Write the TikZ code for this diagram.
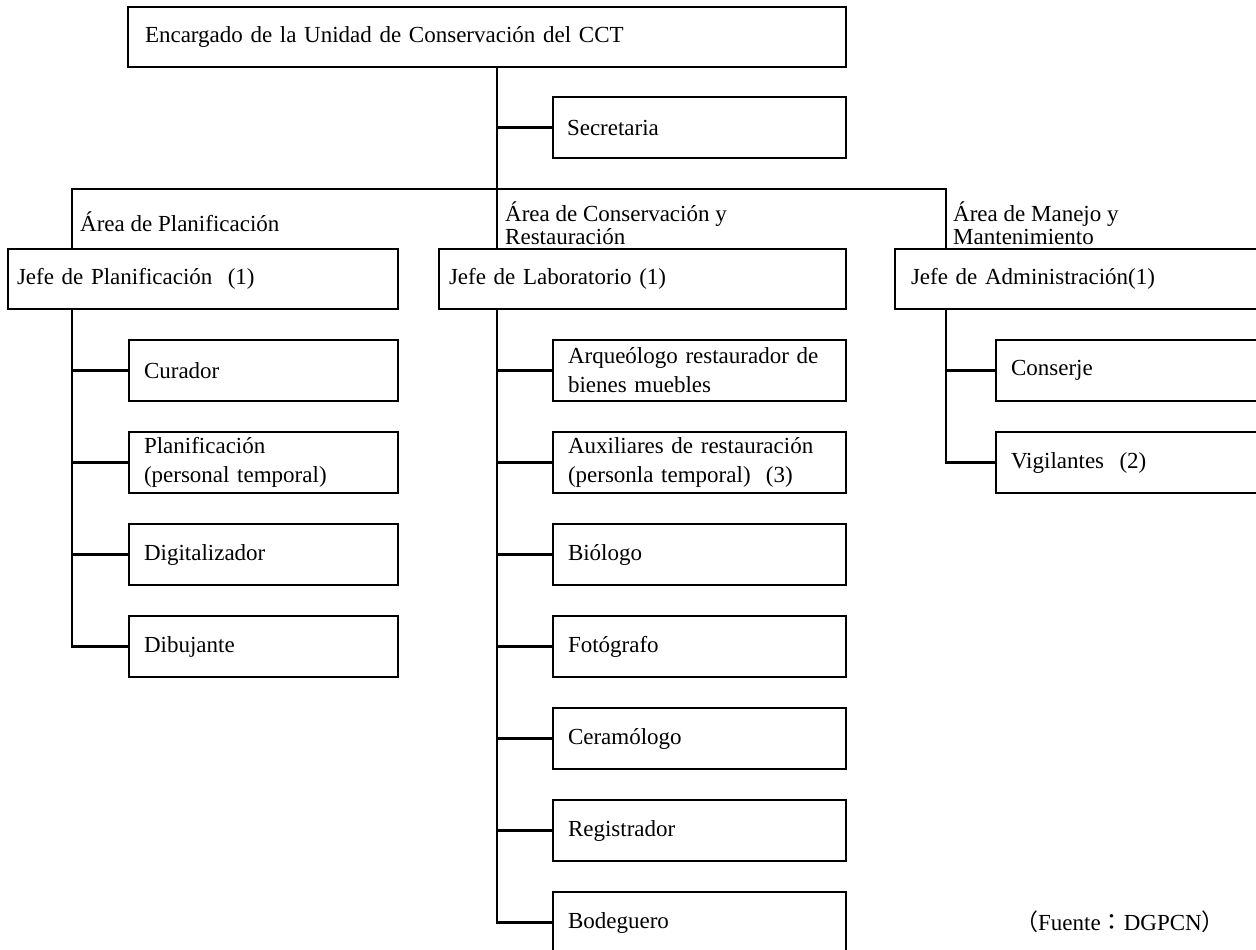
\documentclass[tikz,border=0pt]{standalone}
\usepackage{fontspec}
\setmainfont{Liberation Serif}
\newfontfamily\cjk{Noto Sans CJK JP}
\begin{document}
\begin{tikzpicture}[x=1pt,y=-1pt,
  lw/.style={line width=2.1pt},
  box/.style={draw, lw, anchor=north west, inner ysep=0pt, outer sep=0pt,
    align=left, font=\fontsize{23}{29}\selectfont},
  link/.style={lw, line join=miter, line cap=rect},
  lbl/.style={anchor=west, inner sep=0pt, align=left, font=\fontsize{23}{23}\selectfont}
]
\path[use as bounding box] (0,0) rectangle (1256,950);
\clip (0,0) rectangle (1256,950);

% top
\node[box, minimum height=60pt, text width=684pt, inner xsep=17pt] (top) at (128,7) {Encargado de la Unidad de Conservación del CCT};
\node[box, minimum height=61pt, text width=265pt, inner xsep=14pt] (sec) at (553,97) {Secretaria};

% jefes
\node[box, minimum height=60pt, text width=372pt, inner xsep=9pt] (jp) at (8,249) {Jefe de Planificación\ \ (1)};
\node[box, minimum height=60pt, text width=387pt, inner xsep=10pt] (jl) at (439,249) {Jefe de Laboratorio (1)};
\node[box, minimum height=60pt, text width=363pt, inner xsep=16pt] (ja) at (895,249) {Jefe de Administración(1)};

% area labels
\node[lbl] (ap) at (80,222) {Área de Planificación};
\node[lbl] (ac) at (505,223) {Área de Conservación y\\Restauración};
\node[lbl] (am) at (953,223) {Área de Manejo y\\Mantenimiento};

% planificacion children
\tikzset{lc/.style={box, minimum height=61pt, text width=239pt, inner xsep=15pt}}
\node[lc] (cur) at (129,340) {Curador};
\node[lc] (pla) at (129,432) {Planificación\\(personal temporal)};
\node[lc] (dig) at (129,524) {Digitalizador};
\node[lc] (dib) at (129,616) {Dibujante};

% laboratorio children
\tikzset{mc/.style={box, minimum height=61pt, text width=263pt, inner xsep=15pt}}
\node[mc] (arq) at (553,340) {\makebox[263pt][s]{Arqueólogo restaurador de}\\bienes muebles};
\node[mc] (aux) at (553,432) {Auxiliares de restauración\\(personla temporal)\ \ (3)};
\node[mc] (bio) at (553,524) {Biólogo};
\node[mc] (fot) at (553,616) {Fotógrafo};
\node[mc] (cer) at (553,708) {Ceramólogo};
\node[mc] (reg) at (553,800) {Registrador};
\node[mc] (bod) at (553,892) {Bodeguero};

% administracion children
\tikzset{rc/.style={box, minimum height=61pt, text width=264pt, inner xsep=15pt}}
\node[rc] (con) at (996,340) {Conserje};
\node[rc] (vig) at (996,432) {Vigilantes\ \ (2)};

% source
\node[anchor=base west, inner sep=0pt, font=\fontsize{23}{23}\selectfont] (src) at (1015,930) {{\cjk （}Fuente{\cjk ：}DGPCN{\cjk ）}};

% connectors
\coordinate (trunk) at (497,189);
\coordinate (bl) at (72,189);
\coordinate (br) at (946,189);
\draw[link] (trunk |- top.south) -- (trunk);
\draw[link] (sec.west) -- (sec.west -| trunk);
\draw[link] (bl |- jp.north) -- (bl) -- (br) -- (br |- ja.north);
\draw[link] (trunk) -- (trunk |- jl.north);

\draw[link] (bl |- jp.south) -- (bl |- dib.west) -- (dib.west);
\foreach \n in {cur,pla,dig} \draw[link] (\n.west) -- (\n.west -| bl);

\draw[link] (trunk |- jl.south) -- (trunk |- bod.west) -- (bod.west);
\foreach \n in {arq,aux,bio,fot,cer,reg} \draw[link] (\n.west) -- (\n.west -| trunk);

\draw[link] (br |- ja.south) -- (br |- vig.west) -- (vig.west);
\draw[link] (con.west) -- (con.west -| br);
\end{tikzpicture}
\end{document}
